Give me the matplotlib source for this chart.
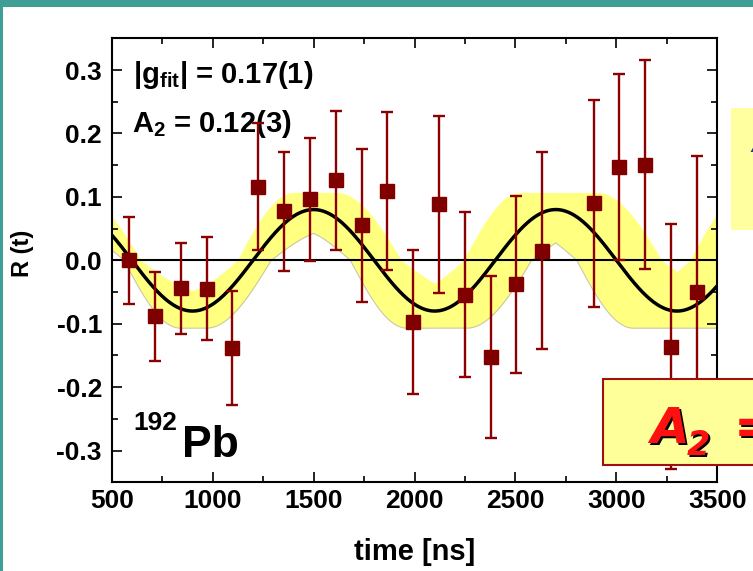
import numpy as np
import matplotlib.pyplot as plt
from matplotlib.patches import Rectangle
from matplotlib.ticker import MultipleLocator, FormatStrFormatter

plt.rcParams['font.family'] = ['Liberation Sans', 'DejaVu Sans']
plt.rcParams['font.weight'] = 'bold'
plt.rcParams['axes.unicode_minus'] = False
plt.rcParams['mathtext.fontset'] = 'custom'
plt.rcParams['mathtext.rm'] = 'Liberation Sans:bold'
plt.rcParams['mathtext.it'] = 'Liberation Sans:bold'
plt.rcParams['mathtext.bf'] = 'Liberation Sans:bold'

# Measured points (time in ns, R(t), symmetric error):
t_ns = [585, 714, 842, 970, 1097, 1226, 1353, 1482, 1609, 1738, 1862,
        1991, 2123, 2250, 2377, 2502, 2633, 2887, 3014, 3141, 3270, 3397]
R_val = [0.000, -0.088, -0.044, -0.045, -0.138, 0.116, 0.077, 0.096, 0.126,
         0.055, 0.109, -0.097, 0.088, -0.054, -0.152, -0.038, 0.015, 0.090,
         0.147, 0.151, -0.136, -0.050]
R_err = [0.069, 0.070, 0.072, 0.081, 0.090, 0.100, 0.094, 0.097, 0.110,
         0.120, 0.125, 0.113, 0.140, 0.130, 0.128, 0.140, 0.155, 0.163,
         0.147, 0.165, 0.193, 0.214]

fit_amp = 0.08
fit_period = 1200.0
band_amp = [0.05, 0.107]
freq_rel_err = 0.07

x_ticks = [500, 1000, 1500, 2000, 2500, 3000, 3500]
y_ticks = [-0.3, -0.2, -0.1, 0.0, 0.1, 0.2, 0.3]

# Fit curve and envelope band:
t_fit = np.linspace(500, 3500, 800)
omega = 2 * np.pi / fit_period
R_fit = fit_amp * np.sin(omega * t_fit)
omegas = omega * (1 + np.linspace(-freq_rel_err, freq_rel_err, 301))
curves = np.concatenate([a * np.sin(np.outer(omegas, t_fit)) for a in band_amp])
band_lo = curves.min(axis=0)
band_hi = curves.max(axis=0)

fig = plt.figure(figsize=(7.53, 5.71), dpi=100)
ax = fig.add_axes([0.14834, 0.15534, 0.80425, 0.77758])

ax.fill_between(t_fit, band_lo, band_hi, color='#FFFF80', lw=0, zorder=1)
ax.plot(t_fit, band_lo, color='#C8C8B0', lw=0.8, zorder=1.5)
ax.axhline(0, color='k', lw=1.5, zorder=2)
ax.plot(t_fit, R_fit, 'k', lw=2.5, zorder=3)
ax.errorbar(t_ns, R_val, yerr=R_err, fmt='s', color='#800000', ecolor='#8B0000',
            markersize=10, elinewidth=1.7, capsize=4, capthick=1.7, zorder=4)

ax.set_xlim(500, 3500)
ax.set_ylim(-0.35, 0.35)
ax.set_xticks(x_ticks)
ax.set_yticks(y_ticks)
ax.xaxis.set_minor_locator(MultipleLocator(250))
ax.yaxis.set_minor_locator(MultipleLocator(0.05))
ax.yaxis.set_major_formatter(FormatStrFormatter('%.1f'))
ax.tick_params(which='both', direction='in', top=True, right=True, width=1.2, labelsize=19)
ax.tick_params(which='major', length=7)
ax.tick_params(which='minor', length=4)
ax.tick_params(axis='x', pad=5)
ax.tick_params(axis='y', pad=7)
for s in ax.spines.values():
    s.set_linewidth(1.5)

ax.set_xlabel('time [ns]', fontsize=21, fontweight='bold')
ax.xaxis.set_label_coords(0.5, -0.125)
ax.set_ylabel('R (t)', fontsize=17, fontweight='bold')
ax.yaxis.set_label_coords(-0.128, 0.515)

# Annotations:
ax.text(0.035, 0.8986, r'|g$_{\mathrm{fit}}$| = 0.17(1)', transform=ax.transAxes,
        fontsize=21, fontweight='bold', va='baseline')
ax.text(0.033, 0.7896, r'A$_{\mathrm{2}}$ = 0.12(3)', transform=ax.transAxes,
        fontsize=21, fontweight='bold', va='baseline')
ax.text(0.0357, 0.1178, '192', transform=ax.transAxes, fontsize=19,
        fontweight='bold', va='baseline')
ax.text(0.1156, 0.0577, 'Pb', transform=ax.transAxes, fontsize=32,
        fontweight='bold', va='baseline')

# Overlapping slide boxes:
W, H = 753.0, 571.0
fig.add_artist(Rectangle((731 / W, (H - 230) / H), 40 / W, 122.3 / H,
                         transform=fig.transFigure, facecolor='#FFFFA0',
                         edgecolor='none', zorder=5))
fig.text(750 / W, (H - 152) / H, 'A', color='#1F3A8A', fontsize=16,
         fontweight='bold', style='italic', va='baseline', zorder=6)
fig.add_artist(Rectangle((603.3 / W, (H - 465) / H), 170 / W, 85.7 / H,
                         transform=fig.transFigure, facecolor='#FFFF99',
                         edgecolor='#A01010', lw=1.5, zorder=5))
for dx, dy, c in [(2, -2, 'black'), (0, 0, '#FF1010')]:
    fig.text((650 + dx) / W, (H - 443 + dy) / H, 'A', color=c, fontsize=36,
             fontweight='bold', style='italic', family='DejaVu Sans',
             va='baseline', zorder=6)
    fig.text((687 + dx) / W, (H - 455 + dy) / H, '2', color=c, fontsize=24,
             fontweight='bold', style='italic', family='DejaVu Sans',
             va='baseline', zorder=6)
    fig.text((734 + dx) / W, (H - 443 + dy) / H, '=', color=c, fontsize=36,
             fontweight='bold', family='DejaVu Sans', va='baseline', zorder=6)

# Teal slide frame:
fig.add_artist(Rectangle((0, (H - 7) / H), 1, 7 / H, transform=fig.transFigure,
                         facecolor='#3F9F94', edgecolor='none', zorder=10))
fig.add_artist(Rectangle((0, 0), 2.5 / W, 1, transform=fig.transFigure,
                         facecolor='#3F9F94', edgecolor='none', zorder=10))

fig.savefig('out.png', dpi=100, facecolor='white')
